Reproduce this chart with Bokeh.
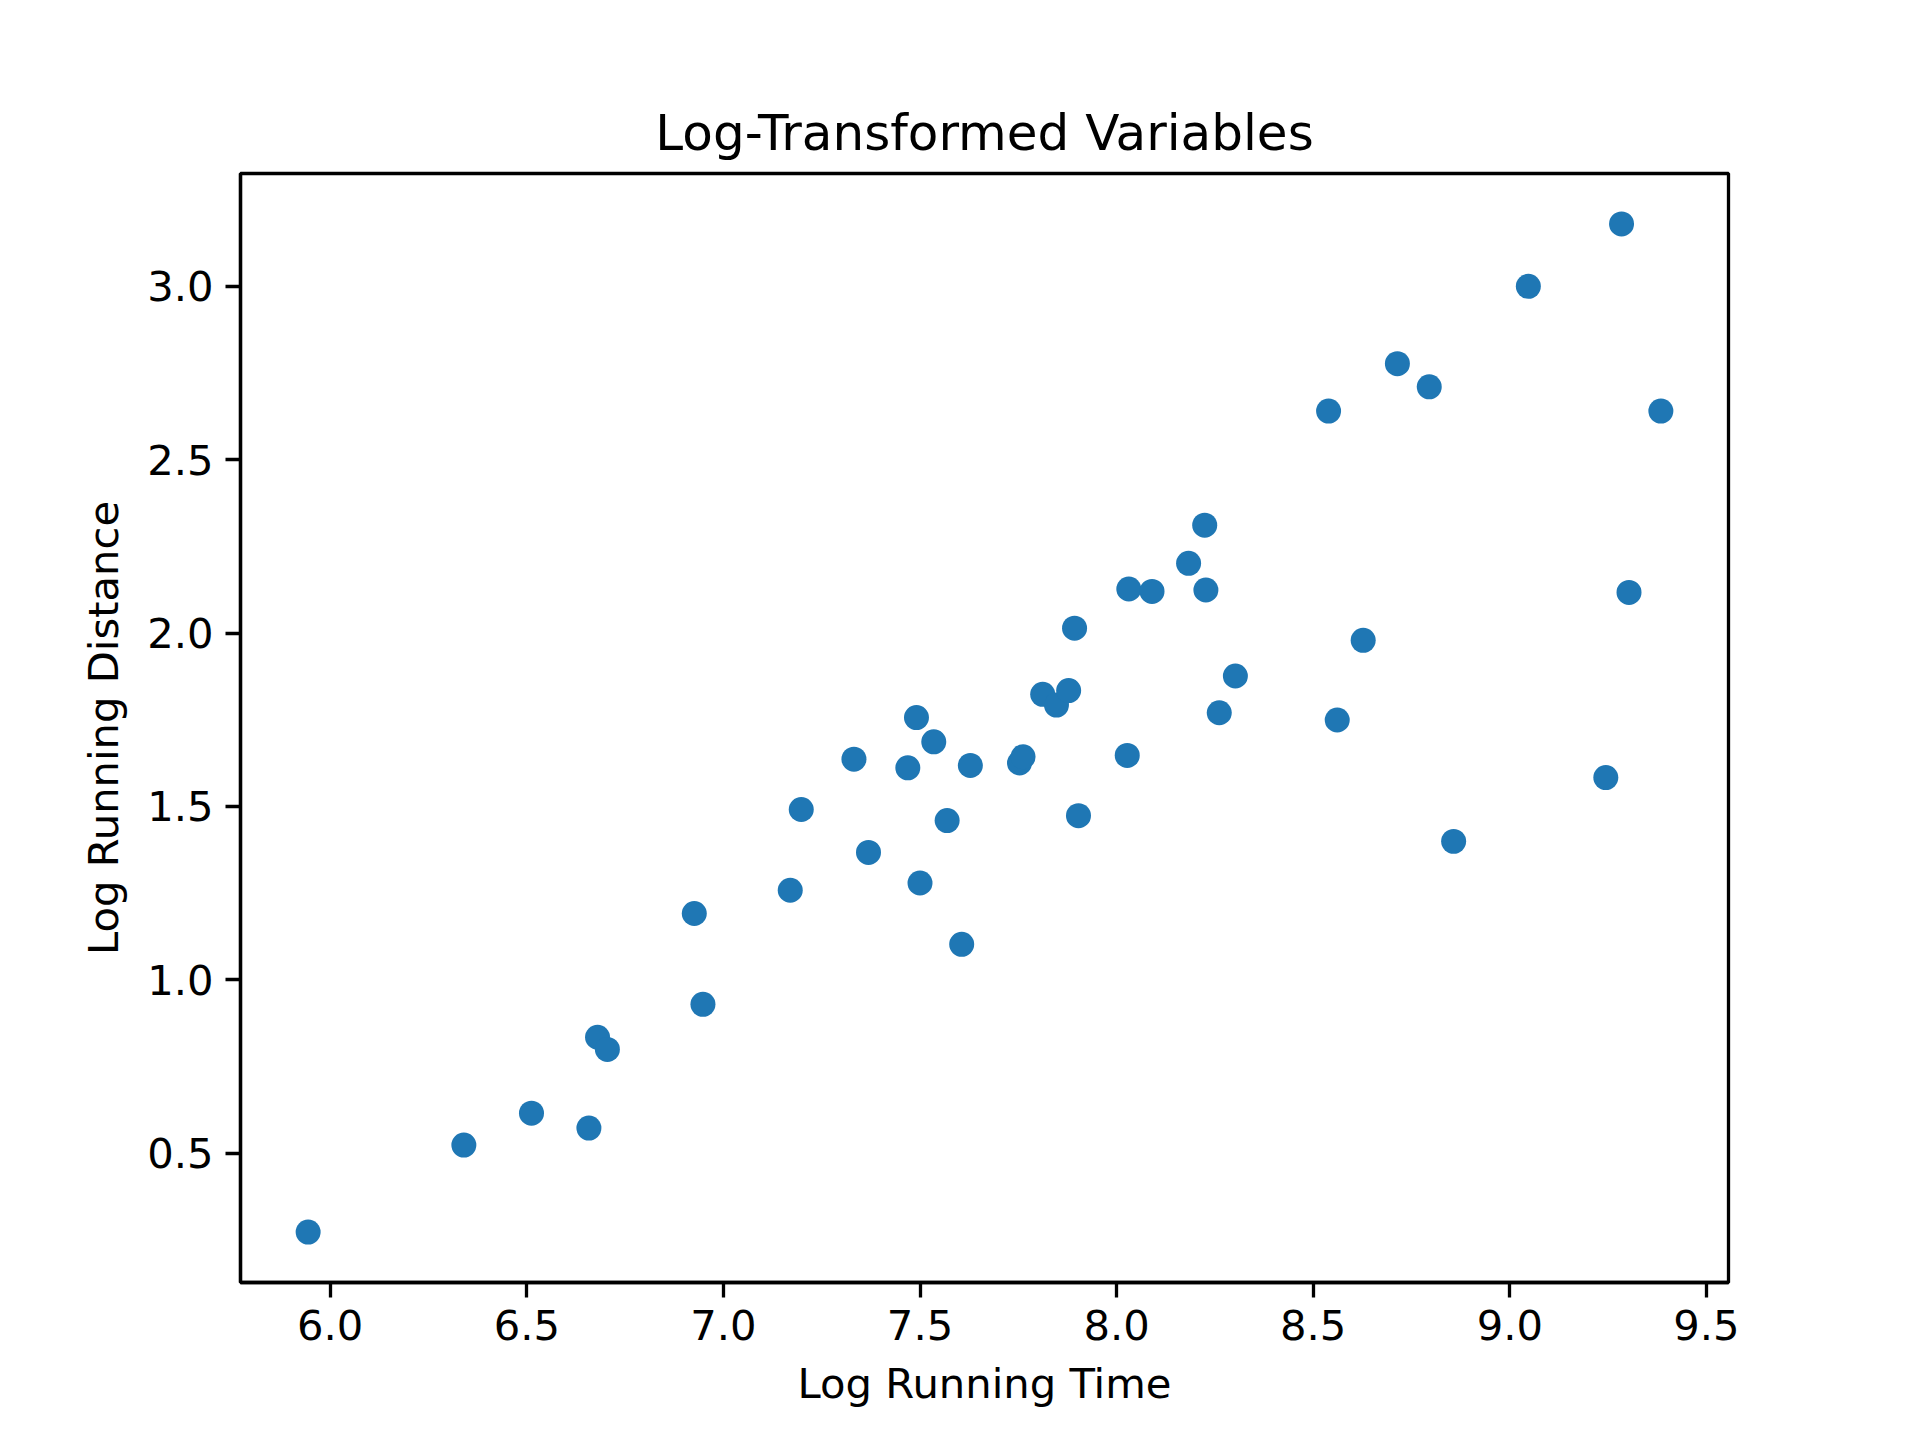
from bokeh.plotting import figure
from bokeh.models import Range1d, FixedTicker, PrintfTickFormatter
from bokeh.embed import file_html
from bokeh.resources import INLINE

# values
log_time = [5.944, 6.340, 6.512, 6.658, 6.680, 6.705, 6.926, 6.948, 7.170, 7.198,
            7.332, 7.369, 7.469, 7.491, 7.500, 7.535, 7.569, 7.606, 7.628, 7.753,
            7.762, 7.812, 7.847, 7.878, 7.893, 7.903, 8.027, 8.031, 8.090, 8.183,
            8.224, 8.227, 8.261, 8.302, 8.539, 8.561, 8.627, 8.714, 8.795, 8.857,
            9.047, 9.244, 9.284, 9.303, 9.384]
log_distance = [0.272, 0.523, 0.615, 0.572, 0.834, 0.799, 1.191, 0.929, 1.258, 1.491,
                1.636, 1.367, 1.611, 1.756, 1.279, 1.686, 1.459, 1.102, 1.618, 1.625,
                1.643, 1.823, 1.792, 1.834, 2.014, 1.473, 1.647, 2.127, 2.120, 2.201,
                2.311, 2.124, 1.770, 1.876, 2.640, 1.749, 1.979, 2.777, 2.710, 1.399,
                3.000, 1.583, 3.180, 2.117, 2.640]

x_ticks = [6.0, 6.5, 7.0, 7.5, 8.0, 8.5, 9.0, 9.5]
y_ticks = [0.5, 1.0, 1.5, 2.0, 2.5, 3.0]

title = "Log-Transformed Variables"
x_label = "Log Running Time"
y_label = "Log Running Distance"

FONT = "DejaVu Sans"
BLUE = "#1f77b4"


def padded(vals, frac=0.05):
    lo, hi = min(vals), max(vals)
    pad = (hi - lo) * frac
    return Range1d(lo - pad, hi + pad)


p = figure(width=1904, height=1424, output_backend="svg", toolbar_location=None,
           x_range=padded(log_time), y_range=padded(log_distance),
           min_border_left=240, min_border_right=176,
           min_border_top=173, min_border_bottom=142)

p.scatter(log_time, log_distance, size=25, color=BLUE, line_color=None)

p.title.text = title
p.title.align = "center"
p.title.text_font = FONT
p.title.text_font_size = "50px"
p.title.text_font_style = "normal"
p.title.text_color = "black"
p.title.standoff = 23

p.grid.visible = False
p.background_fill_color = "white"
p.border_fill_color = "white"
p.outline_line_color = "black"
p.outline_line_width = 3.3

p.xaxis.ticker = FixedTicker(ticks=x_ticks)
p.yaxis.ticker = FixedTicker(ticks=y_ticks)
p.xaxis.axis_label = x_label
p.yaxis.axis_label = y_label

for ax in (p.xaxis, p.yaxis):
    ax.formatter = PrintfTickFormatter(format="%.1f")
    ax.axis_line_color = "black"
    ax.axis_line_width = 3.3
    ax.major_tick_line_width = 3.3
    ax.major_tick_out = 15
    ax.major_tick_in = 0
    ax.minor_tick_line_color = None
    ax.major_label_text_font = FONT
    ax.major_label_text_font_size = "41.7px"
    ax.major_label_text_color = "black"
    ax.major_label_standoff = 12
    ax.axis_label_text_font = FONT
    ax.axis_label_text_font_size = "41.7px"
    ax.axis_label_text_font_style = "normal"
    ax.axis_label_text_color = "black"
    ax.axis_label_standoff = 16

open("out.html", "w").write(file_html(p, INLINE))
